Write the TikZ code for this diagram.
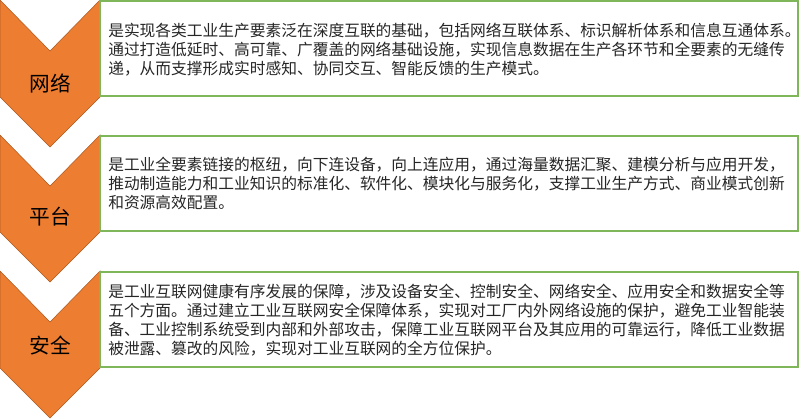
\documentclass[tikz,border=0pt]{standalone}
\usepackage{fontspec}
\setmainfont{Noto Sans CJK SC}
\usepackage{tikz}
\definecolor{chevfill}{HTML}{ED7D31}
\definecolor{chevline}{HTML}{AE5A21}
\definecolor{boxline}{HTML}{7FB65A}
\definecolor{desctext}{HTML}{262626}

\begin{document}
\begin{tikzpicture}[x=0.75pt,y=-0.75pt,
        chev/.style={fill=chevfill, draw=chevline, line width=0.4pt},
        infobox/.style={draw=boxline, line width=1.2pt, fill=white},
        lab/.style={font=\fontsize{15.5}{18}\selectfont, text=black},
        desc/.style={anchor=west, inner sep=0pt, align=left, text=desctext,
                     font=\fontsize{11.8}{14.4}\selectfont}]
                \useasboundingbox (0,0) rectangle (800,419);

                \foreach \y in {0,135,271} {
                    \draw[chev] (0,\y) -- (50,\y+51) -- (100,\y) -- (100,\y+97)
                        -- (50,\y+147) -- (0,\y+97) -- cycle;
                    \draw[infobox] (100,\y+1) rectangle (798,\y+96);
                }

                \node[lab] (net) at (50,83) {网络};
                \node[lab] (plat) at (50,217) {平台};
                \node[lab] (sec) at (50,345) {安全};

                \node[desc] (netdesc) at (108,49.5) {是实现各类工业生产要素泛在深度互联的基础，包括网络互联体系、标识解析体系和信息互通体系。\\
                    通过打造低延时、高可靠、广覆盖的网络基础设施，实现信息数据在生产各环节和全要素的无缝传\\
                    递，从而支撑形成实时感知、协同交互、智能反馈的生产模式。};
                \node[desc] (platdesc) at (108,183.5) {是工业全要素链接的枢纽，向下连设备，向上连应用，通过海量数据汇聚、建模分析与应用开发，\\
                    推动制造能力和工业知识的标准化、软件化、模块化与服务化，支撑工业生产方式、商业模式创新\\
                    和资源高效配置。};
                \node[desc] (secdesc) at (108,320) {是工业互联网健康有序发展的保障，涉及设备安全、控制安全、网络安全、应用安全和数据安全等\\
                    五个方面。通过建立工业互联网安全保障体系，实现对工厂内外网络设施的保护，避免工业智能装\\
                    备、工业控制系统受到内部和外部攻击，保障工业互联网平台及其应用的可靠运行，降低工业数据\\
                    被泄露、篡改的风险，实现对工业互联网的全方位保护。};
            \end{tikzpicture}
\end{document}
